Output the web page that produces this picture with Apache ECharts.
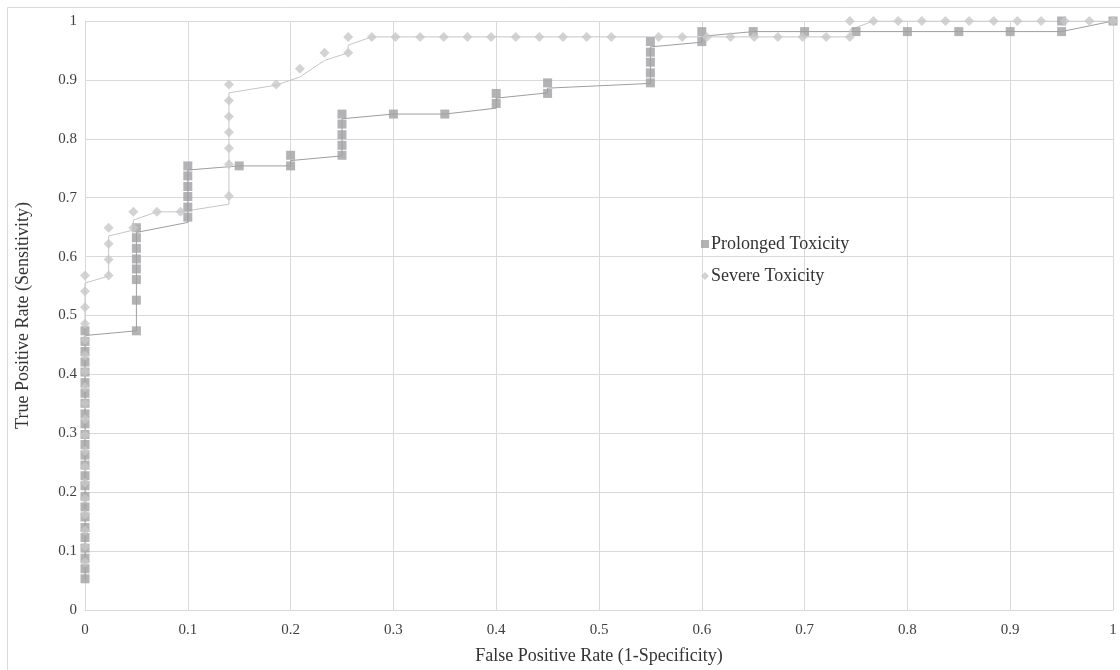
<!DOCTYPE html>
<html>
<head>
<meta charset="utf-8">
<script src="https://cdn.jsdelivr.net/npm/echarts@6/dist/echarts.min.js"></script>
<style>
  html, body { margin: 0; padding: 0; background: #fff; }
  #main { width: 1120px; height: 670px; }
</style>
</head>
<body>
<div id="main"></div>
<script>
// ROC points: [FPR, TPR]
var prolongedPoints = [
  [0,0.053],[0,0.070],[0,0.088],[0,0.105],[0,0.123],[0,0.140],[0,0.158],[0,0.175],[0,0.193],
  [0,0.211],[0,0.228],[0,0.246],[0,0.263],[0,0.281],[0,0.298],[0,0.316],[0,0.333],[0,0.351],
  [0,0.368],[0,0.386],[0,0.404],[0,0.421],[0,0.439],[0,0.456],[0,0.474],
  [0.05,0.474],[0.05,0.526],[0.05,0.561],[0.05,0.579],[0.05,0.596],[0.05,0.614],[0.05,0.632],[0.05,0.649],
  [0.1,0.667],[0.1,0.684],[0.1,0.702],[0.1,0.719],[0.1,0.737],[0.1,0.754],
  [0.15,0.754],[0.2,0.754],[0.2,0.772],
  [0.25,0.772],[0.25,0.789],[0.25,0.807],[0.25,0.825],[0.25,0.842],
  [0.3,0.842],[0.35,0.842],[0.4,0.860],[0.4,0.877],[0.45,0.877],[0.45,0.895],
  [0.55,0.895],[0.55,0.912],[0.55,0.930],[0.55,0.947],[0.55,0.965],
  [0.6,0.965],[0.6,0.982],[0.65,0.982],[0.7,0.982],[0.75,0.982],[0.8,0.982],
  [0.85,0.982],[0.9,0.982],[0.95,0.982],[0.95,1],[1,1]
];

var severePoints = [
  [0,0.081],[0,0.108],[0,0.135],[0,0.162],[0,0.189],[0,0.216],[0,0.243],[0,0.270],[0,0.297],
  [0,0.324],[0,0.351],[0,0.378],[0,0.405],[0,0.432],[0,0.459],[0,0.486],[0,0.514],[0,0.541],[0,0.568],
  [0.023,0.568],[0.023,0.595],[0.023,0.622],[0.023,0.649],
  [0.047,0.649],[0.047,0.676],[0.070,0.676],[0.093,0.676],
  [0.140,0.703],[0.140,0.757],[0.140,0.784],[0.140,0.811],[0.140,0.838],[0.140,0.865],[0.140,0.892],
  [0.186,0.892],[0.209,0.919],[0.233,0.946],[0.256,0.946],[0.256,0.973],
  [0.279,0.973],[0.302,0.973],[0.326,0.973],[0.349,0.973],[0.372,0.973],[0.395,0.973],
  [0.419,0.973],[0.442,0.973],[0.465,0.973],[0.488,0.973],[0.512,0.973],[0.558,0.973],
  [0.581,0.973],[0.605,0.973],[0.628,0.973],[0.651,0.973],[0.674,0.973],[0.698,0.973],
  [0.721,0.973],[0.744,0.973],
  [0.744,1],[0.767,1],[0.791,1],[0.814,1],[0.837,1],[0.860,1],[0.884,1],[0.907,1],
  [0.930,1],[0.953,1],[0.977,1],[1,1]
];

// connecting lines as they appear in the picture
var prolongedLine = [
  [0,0.053],[0,0.466],[0.05,0.474],[0.05,0.641],[0.1,0.658],[0.1,0.747],[0.15,0.754],
  [0.2,0.754],[0.2,0.763],[0.25,0.771],[0.25,0.834],[0.3,0.842],[0.35,0.842],[0.4,0.852],
  [0.4,0.869],[0.45,0.878],[0.45,0.886],[0.55,0.894],[0.55,0.956],[0.6,0.964],[0.6,0.974],
  [0.65,0.982],[0.95,0.982],[1,1]
];
var severeLine = [
  [0,0.081],[0,0.555],[0.023,0.567],[0.023,0.635],[0.047,0.645],[0.047,0.662],[0.070,0.676],
  [0.093,0.676],[0.140,0.689],[0.140,0.878],[0.186,0.891],[0.209,0.905],[0.233,0.933],
  [0.256,0.946],[0.256,0.959],[0.279,0.973],[0.744,0.973],[0.744,0.985],[0.767,1],[1,1]
];

var seriesNames = ['Prolonged Toxicity', 'Severe Toxicity'];
var xAxisTitle = 'False Positive Rate (1-Specificity)';
var yAxisTitle = 'True Positive Rate (Sensitivity)';

var font = '"Liberation Serif", "Times New Roman", serif';
var myChart = echarts.init(document.getElementById('main'));

var option = {
  backgroundColor: '#fff',
  animation: false,
  textStyle: { fontFamily: font },
  graphic: [{
    type: 'rect',
    silent: true,
    shape: { x: 7.5, y: 7.5, width: 1140, height: 700 },
    style: { fill: 'none', stroke: '#d9d9d9', lineWidth: 1 }
  }],
  grid: { left: 85, right: 7, top: 21, bottom: 60 },
  legend: {
    data: [
      { name: seriesNames[0], icon: 'rect' },
      { name: seriesNames[1], icon: 'diamond' }
    ],
    orient: 'vertical',
    left: 696,
    top: 230,
    itemWidth: 8,
    itemHeight: 8,
    itemGap: 14,
    textStyle: { fontFamily: font, fontSize: 18, color: '#333333', padding: [0, 0, 0, -3] }
  },
  xAxis: {
    type: 'value',
    min: 0, max: 1, interval: 0.1,
    name: xAxisTitle,
    nameLocation: 'middle',
    nameGap: 37,
    nameTextStyle: { fontFamily: font, fontSize: 18, color: '#333333' },
    axisLine: { show: true, lineStyle: { color: '#d9d9d9' } },
    axisTick: { show: false },
    axisLabel: { fontFamily: font, fontSize: 15, color: '#404040', margin: 13 },
    splitLine: { show: true, lineStyle: { color: '#d9d9d9' } }
  },
  yAxis: {
    type: 'value',
    min: 0, max: 1, interval: 0.1,
    name: yAxisTitle,
    nameLocation: 'middle',
    nameGap: 53,
    nameTextStyle: { fontFamily: font, fontSize: 18, color: '#333333' },
    axisLine: { show: true, lineStyle: { color: '#d9d9d9' } },
    axisTick: { show: false },
    axisLabel: { fontFamily: font, fontSize: 15, color: '#404040', margin: 8 },
    splitLine: { show: true, lineStyle: { color: '#d9d9d9' } }
  },
  series: [
    {
      name: 'prolonged line',
      type: 'line',
      data: prolongedLine,
      showSymbol: false,
      silent: true,
      z: 2,
      lineStyle: { color: '#9e9ea2', width: 1 }
    },
    {
      name: 'severe line',
      type: 'line',
      data: severeLine,
      showSymbol: false,
      silent: true,
      z: 2,
      lineStyle: { color: '#c6c6c6', width: 1 }
    },
    {
      name: seriesNames[0],
      type: 'scatter',
      data: prolongedPoints,
      symbol: 'rect',
      symbolSize: 9,
      z: 3,
      itemStyle: { color: '#a0a0a4' }
    },
    {
      name: seriesNames[1],
      type: 'scatter',
      data: severePoints,
      symbol: 'diamond',
      symbolSize: [10, 10],
      z: 4,
      itemStyle: { color: '#c8c8c8' }
    }
  ]
};

myChart.setOption(option);
</script>
</body>
</html>
